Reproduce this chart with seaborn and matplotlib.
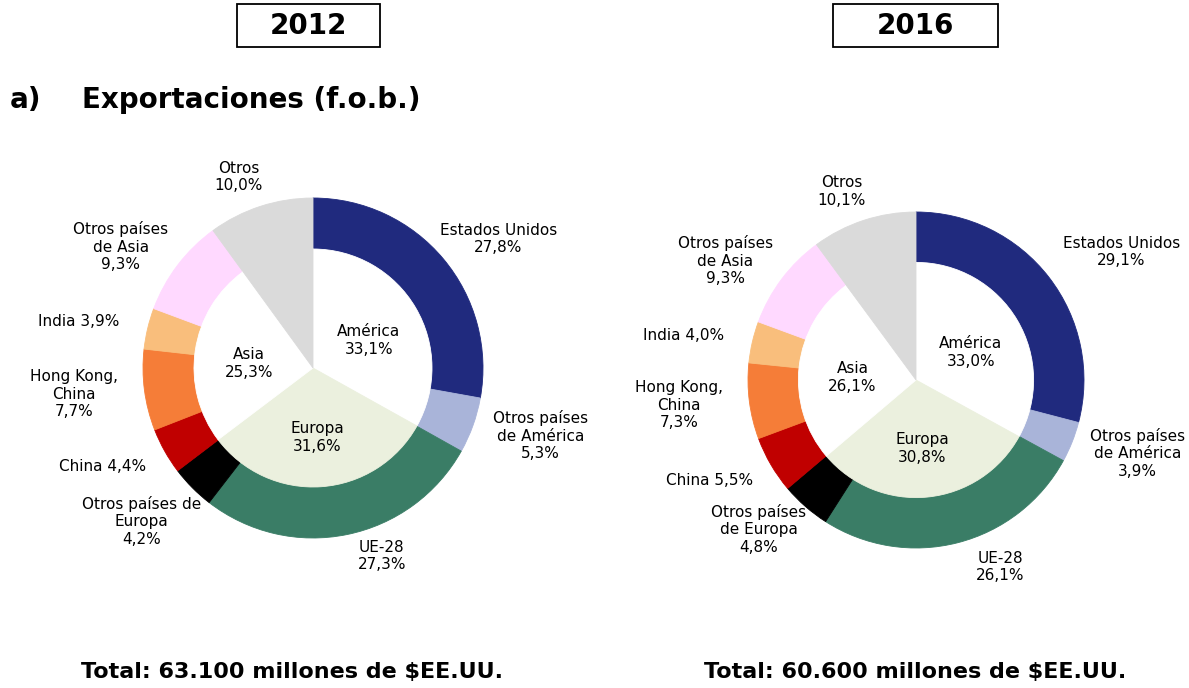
import numpy as np
import matplotlib
matplotlib.use("Agg")
import matplotlib.pyplot as plt
import matplotlib.patches as mpatches
import seaborn as sns

# outer ring: countries, clockwise from the top
paises_2012 = ["Estados Unidos\n27,8%", "Otros países\nde América\n5,3%", "UE-28\n27,3%",
               "Otros países de\nEuropa\n4,2%", "China 4,4%", "Hong Kong,\nChina\n7,7%",
               "India 3,9%", "Otros países\nde Asia\n9,3%", "Otros\n10,0%"]
valores_2012 = [27.8, 5.3, 27.3, 4.2, 4.4, 7.7, 3.9, 9.3, 10.0]
paises_2016 = ["Estados Unidos\n29,1%", "Otros países\nde América\n3,9%", "UE-28\n26,1%",
               "Otros países\nde Europa\n4,8%", "China 5,5%", "Hong Kong,\nChina\n7,3%",
               "India 4,0%", "Otros países\nde Asia\n9,3%", "Otros\n10,1%"]
valores_2016 = [29.1, 3.9, 26.1, 4.8, 5.5, 7.3, 4.0, 9.3, 10.1]

# inner pie: regions
regiones_2012 = ["América\n33,1%", "Europa\n31,6%", "Asia\n25,3%", ""]
reg_val_2012 = [33.1, 31.6, 25.3, 10.0]
regiones_2016 = ["América\n33,0%", "Europa\n30,8%", "Asia\n26,1%", ""]
reg_val_2016 = [33.0, 30.8, 26.1, 10.1]

col_paises = ["#202A7E", "#A9B4D9", "#3A7D66", "#000000", "#C00000",
              "#F57D38", "#F9BE7C", "#FFD9FF", "#DADADA"]
col_regiones = ["#FFFFFF", "#EBF0DE", "#FFFFFF", "#DADADA"]

sns.set_theme(style="white")
plt.rcParams['font.family'] = ['DejaVu Sans']
plt.rcParams['text.color'] = 'black'

W, H = 1189, 688
fig = plt.figure(figsize=(W / 100, H / 100), dpi=100)


def donut(cx, cy, R, valores, etiquetas, reg_val, reg_etq, ajuste):
    ext = 1.8
    ax = fig.add_axes([(cx - ext * R) / W, (cy - ext * R) / H, 2 * ext * R / W, 2 * ext * R / H])
    w1, _ = ax.pie(valores, colors=col_paises, radius=1.0, startangle=90, counterclock=False,
                   wedgeprops=dict(width=0.3, linewidth=0.6))
    w2, _ = ax.pie(reg_val, colors=col_regiones, radius=0.7, startangle=90, counterclock=False,
                   wedgeprops=dict(linewidth=0.6))
    for w in list(w1) + list(w2):
        w.set_edgecolor(w.get_facecolor())
    ax.set_xlim(-ext, ext)
    ax.set_ylim(-ext, ext)
    ax.set_aspect("equal")
    ax.axis("off")
    # country labels around the ring
    acum = np.cumsum(valores) - np.array(valores) / 2
    ang = np.deg2rad(acum / np.sum(valores) * 360)
    for i, (a, t) in enumerate(zip(ang, etiquetas)):
        dx, dy = ajuste.get(i, (0, 0))
        ax.text(1.42 * np.sin(a) + dx, 1.18 * np.cos(a) + dy, t, ha="center", va="center",
                fontsize=11, linespacing=1.2, color="black")
    acum = np.cumsum(reg_val) - np.array(reg_val) / 2
    ang = np.deg2rad(acum / np.sum(reg_val) * 360)
    for a, t in zip(ang, reg_etq):
        ax.text(0.38 * np.sin(a), 0.38 * np.cos(a) - 0.03, t, ha="center", va="center",
                fontsize=11, linespacing=1.2, color="black")


donut(313, 320, 170, valores_2012, paises_2012, reg_val_2012, regiones_2012,
      {2: (0.12, 0.05), 3: (0, -0.07)})
donut(916, 308, 168, valores_2016, paises_2016, reg_val_2016, regiones_2016,
      {0: (0.1, 0.04), 2: (0.15, 0.03)})

# year boxes
for x0, x1, year in [(237, 380, "2012"), (833, 998, "2016")]:
    fig.patches.append(mpatches.Rectangle((x0 / W, (H - 47) / H), (x1 - x0) / W, 43 / H,
                                          transform=fig.transFigure, fill=False,
                                          edgecolor="black", linewidth=1.3))
    fig.text((x0 + x1) / 2 / W, (H - 26) / H, year, ha="center", va="center",
             fontsize=20, fontweight="bold", color="black")

fig.text(10 / W, (H - 100) / H, "a)", ha="left", va="center", fontsize=20,
         fontweight="bold", color="black")
fig.text(82 / W, (H - 100) / H, "Exportaciones (f.o.b.)", ha="left", va="center",
         fontsize=20, fontweight="bold", color="black")

fig.text(292 / W, (H - 672) / H, "Total: 63.100 millones de $EE.UU.", ha="center",
         va="center", fontsize=16, fontweight="bold", color="black")
fig.text(915 / W, (H - 672) / H, "Total: 60.600 millones de $EE.UU.", ha="center",
         va="center", fontsize=16, fontweight="bold", color="black")

fig.savefig("out.png", dpi=100, facecolor="white")
